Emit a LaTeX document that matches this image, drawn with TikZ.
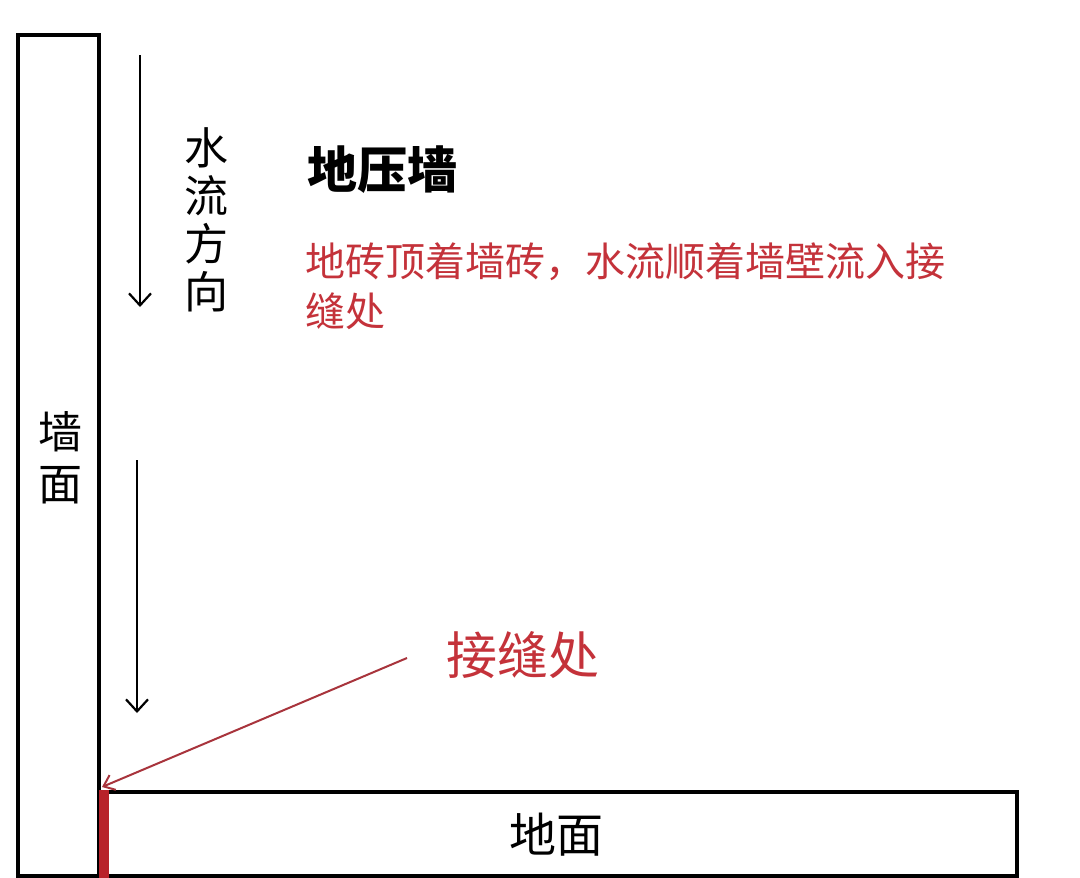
\documentclass[tikz,border=0pt]{standalone}
\usepackage{fontspec}
\setmainfont{Noto Sans CJK SC}
\newfontfamily\cjk{Noto Sans CJK SC}
\usetikzlibrary{arrows.meta}
\definecolor{txtred}{HTML}{C4323A}
\definecolor{arrred}{HTML}{A8343C}
\definecolor{barred}{HTML}{B8222A}
\tikzset{
  outline/.style={draw=black, line width=4pt},
  flow/.style={draw=black, line width=2.2pt, -{Straight Barb[length=12pt,width=22pt,line width=2.2pt]}},
  vlabel/.style={font=\fontsize{44}{50}\selectfont\cjk, align=center, inner sep=0pt, text depth=0pt},
  redtext/.style={font=\fontsize{40}{50}\selectfont\cjk, text=txtred, align=left, inner sep=0pt, anchor=north west}
}
\begin{document}
\begin{tikzpicture}[x=1pt,y=-1pt]
\useasboundingbox (0,0) rectangle (1080,878);
\fill[white] (0,0) rectangle (1080,878);
% wall
\draw[outline] (18,35) rectangle (99,876);
\node[vlabel] (wall) at (60,456) {墙\\[2pt]面};
% floor
\draw[outline] (99,792) rectangle (1017,876);
\node[font=\fontsize{47}{50}\selectfont\cjk, inner sep=0pt] (floor) at (556,835) {地面};
% red joint bar
\fill[barred] (99,790) rectangle (109,878);
% flow arrows
\coordinate (a1s) at (140,55);
\coordinate (a1e) at (140,307);
\draw[flow] (a1s) -- (a1e);
\coordinate (a2s) at (137,460);
\coordinate (a2e) at (137,713);
\draw[flow] (a2s) -- (a2e);
\node[vlabel, font=\fontsize{44}{48}\selectfont\cjk] (flowlbl) at (206,218) {水\\流\\方\\向};
% title
\node[font=\fontsize{50}{50}\selectfont\bfseries\cjk, inner sep=0pt, anchor=west] (title) at (307,170) {地压墙};
\node[redtext] (desc) at (305,242) {地砖顶着墙砖，水流顺着墙壁流入接\\缝处};
% joint label
\node[font=\fontsize{51}{50}\selectfont\cjk, text=txtred, inner sep=0pt, anchor=west] (joint) at (446,655) {接缝处};
\coordinate (jstart) at (407,658);
\coordinate (jend) at (102,787);
\draw[arrred, line width=2pt, -{Straight Barb[length=10pt,width=16pt,line width=2pt]}] (jstart) -- (jend);
\end{tikzpicture}
\end{document}
